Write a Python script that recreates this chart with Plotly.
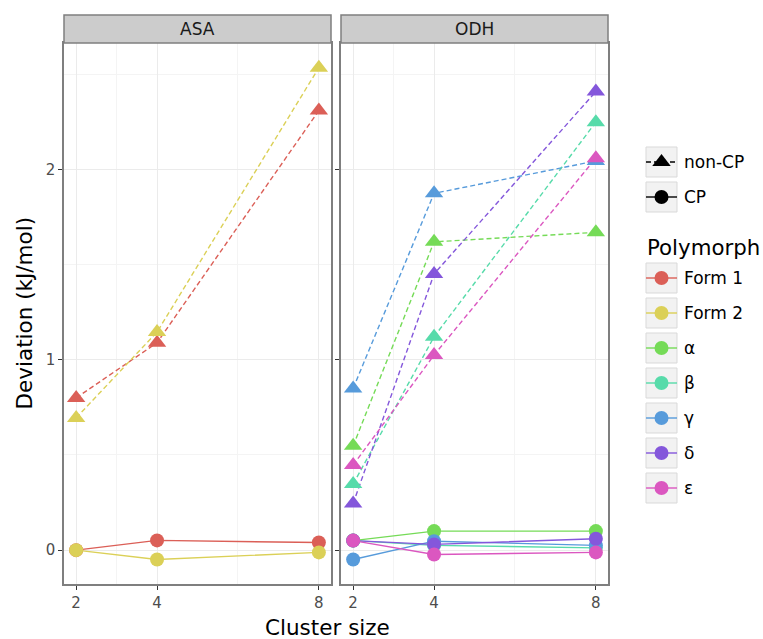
import plotly.graph_objects as go

# ---------------- data ----------------
cluster_sizes = [2, 4, 8]
polymorphs = ["Form 1", "Form 2", "α", "β", "γ", "δ", "ε"]
poly_colors = ["#DB5F57", "#DBD057", "#75DB57", "#57DBAA", "#579BDB", "#8457DB", "#DB57C0"]

asa_polymorphs = ["Form 1", "Form 2"]
asa_noncp = {"Form 1": [0.80, 1.09, 2.31], "Form 2": [0.695, 1.146, 2.535]}
asa_cp = {"Form 1": [0.0, 0.051, 0.040], "Form 2": [0.0, -0.049, -0.012]}

odh_polymorphs = ["α", "β", "γ", "δ", "ε"]
odh_noncp = {"α": [0.548, 1.62, 1.67], "β": [0.347, 1.121, 2.249],
             "γ": [0.85, 1.875, 2.045], "δ": [0.245, 1.451, 2.41],
             "ε": [0.447, 1.025, 2.06]}
odh_cp = {"α": [0.05, 0.10, 0.10], "β": [0.05, 0.025, 0.012],
          "γ": [-0.049, 0.047, 0.025], "δ": [0.05, 0.03, 0.06],
          "ε": [0.05, -0.023, -0.012]}

facets = ["ASA", "ODH"]
x_ticks = [2, 4, 8]
x_minor = [3, 6]
y_ticks = [0, 1, 2]
y_minor = [0.5, 1.5, 2.5]
cp_labels = ["non-CP", "CP"]

# ---------------- geometry ----------------
W, H = 763, 639
ML, MR, MT, MB = 64, 0, 15, 55
PW, PH = W - ML - MR, H - MT - MB


def fx(px):
    return (px - ML) / PW


def fy(py):
    return (H - MB - py) / PH


panel_px = [(64, 331), (341, 608)]
panel_top, strip_top = 43, 15

color_of = dict(zip(polymorphs, poly_colors))
FONT = "DejaVu Sans"

fig = go.Figure()

facet_data = [(asa_polymorphs, asa_noncp, asa_cp), (odh_polymorphs, odh_noncp, odh_cp)]

for i, (plist, noncp, cp) in enumerate(facet_data):
    xa = "x" if i == 0 else "x2"
    ya = "y" if i == 0 else "y2"
    # lines first
    for p in plist:
        fig.add_trace(go.Scatter(x=cluster_sizes, y=noncp[p], mode="lines", xaxis=xa, yaxis=ya,
                                 line=dict(color=color_of[p], width=1.4, dash="5px,3px"),
                                 showlegend=False, hoverinfo="skip"))
        fig.add_trace(go.Scatter(x=cluster_sizes, y=cp[p], mode="lines", xaxis=xa, yaxis=ya,
                                 line=dict(color=color_of[p], width=1.4),
                                 showlegend=False, hoverinfo="skip"))
    # then points
    for p in plist:
        fig.add_trace(go.Scatter(x=cluster_sizes, y=noncp[p], mode="markers", xaxis=xa, yaxis=ya,
                                 marker=dict(color=color_of[p], size=16, symbol="triangle-up",
                                             line=dict(width=0)),
                                 showlegend=False, name=p + " non-CP"))
        fig.add_trace(go.Scatter(x=cluster_sizes, y=cp[p], mode="markers", xaxis=xa, yaxis=ya,
                                 marker=dict(color=color_of[p], size=14, symbol="circle",
                                             line=dict(width=0)),
                                 showlegend=False, name=p + " CP"))

shapes = []
annotations = []

# strips
for i, (l, r) in enumerate(panel_px):
    shapes.append(dict(type="rect", xref="paper", yref="paper", x0=fx(l), x1=fx(r),
                       y0=fy(panel_top), y1=fy(strip_top), fillcolor="#CCCCCC",
                       line=dict(color="#7F7F7F", width=1.5), layer="above"))
    annotations.append(dict(xref="paper", yref="paper", x=(fx(l) + fx(r)) / 2,
                            y=(fy(panel_top) + fy(strip_top)) / 2, text=facets[i],
                            showarrow=False, font=dict(family=FONT, size=17, color="#1A1A1A"),
                            xanchor="center", yanchor="middle"))

# axis titles
annotations.append(dict(xref="paper", yref="paper", x=fx(327), y=fy(627), text="Cluster size",
                        showarrow=False, font=dict(family=FONT, size=21.5, color="black"),
                        xanchor="center", yanchor="middle"))
annotations.append(dict(xref="paper", yref="paper", x=fx(24), y=fy(313.5), text="Deviation (kJ/mol)",
                        showarrow=False, textangle=-90, font=dict(family=FONT, size=21.5, color="black"),
                        xanchor="center", yanchor="middle"))

# ---------------- legend (drawn on a helper axis in pixel units) ----------------
key_l, key_r, key_h = 646, 677, 30
shape_keys_top = [147, 182]
poly_keys_top = [263 + 35 * k for k in range(len(polymorphs))]
key_cx = (key_l + key_r) / 2

legend_items = []
for lab, top, sym, dash, msize in zip(cp_labels, shape_keys_top, ["triangle-up", "circle"],
                                      ["5px,3px", "solid"], [16, 14]):
    legend_items.append((lab, top, "black", sym, dash, msize))
for p, top in zip(polymorphs, poly_keys_top):
    legend_items.append((p, top, color_of[p], "circle", "solid", 14))

for lab, top, col, sym, dash, msize in legend_items:
    cy = top + key_h / 2
    shapes.append(dict(type="rect", xref="x3", yref="y3", x0=key_l, x1=key_r, y0=top, y1=top + key_h,
                       fillcolor="#F2F2F2", line=dict(color="#D9D9D9", width=1), layer="below"))
    fig.add_trace(go.Scatter(x=[key_l, key_r], y=[cy, cy], mode="lines", xaxis="x3", yaxis="y3",
                             line=dict(color=col, width=1.4, dash=dash), showlegend=False,
                             hoverinfo="skip"))
    fig.add_trace(go.Scatter(x=[key_cx], y=[cy], mode="markers", xaxis="x3", yaxis="y3",
                             marker=dict(color=col, size=msize, symbol=sym, line=dict(width=0)),
                             showlegend=False, hoverinfo="skip"))
    annotations.append(dict(xref="x3", yref="y3", x=key_r + 5, y=cy, text=lab, showarrow=False,
                            font=dict(family=FONT, size=17, color="black"),
                            xanchor="left", yanchor="middle"))

annotations.append(dict(xref="x3", yref="y3", x=key_l - 1, y=247, text="Polymorph", showarrow=False,
                        font=dict(family=FONT, size=21.3, color="black"),
                        xanchor="left", yanchor="middle"))

x_range = [1.7, 8.3]
y_range = [-0.178, 2.665]

xcommon = dict(range=x_range, tickvals=x_ticks, ticktext=[str(t) for t in x_ticks],
               showgrid=True, gridcolor="#EBEBEB", gridwidth=1.3, zeroline=False,
               showline=True, mirror=True, linecolor="#7F7F7F", linewidth=1.5,
               ticks="outside", ticklen=4, tickwidth=1.2, tickcolor="#333333",
               tickfont=dict(family=FONT, size=15, color="#4D4D4D"),
               minor=dict(tickvals=x_minor, showgrid=True, gridcolor="#F4F4F4", gridwidth=1,
                          ticks=""),
               fixedrange=True)
ycommon = dict(range=y_range, tickvals=y_ticks, showgrid=True, gridcolor="#EBEBEB", gridwidth=1.3,
               zeroline=False, showline=True, mirror=True, linecolor="#7F7F7F", linewidth=1.5,
               ticks="outside", ticklen=4, tickwidth=1.2, tickcolor="#333333",
               tickfont=dict(family=FONT, size=15, color="#4D4D4D"),
               minor=dict(tickvals=y_minor, showgrid=True, gridcolor="#F4F4F4", gridwidth=1,
                          ticks=""),
               domain=[0, fy(panel_top)], fixedrange=True)

fig.update_layout(
    width=W, height=H,
    margin=dict(l=ML, r=MR, t=MT, b=MB, pad=0),
    paper_bgcolor="white", plot_bgcolor="white",
    showlegend=False,
    xaxis=dict(domain=[fx(panel_px[0][0]), fx(panel_px[0][1])], anchor="y", **xcommon),
    xaxis2=dict(domain=[fx(panel_px[1][0]), fx(panel_px[1][1])], anchor="y2", **xcommon),
    yaxis=dict(anchor="x", **ycommon),
    yaxis2=dict(anchor="x2", matches="y", showticklabels=False, **ycommon),
    xaxis3=dict(domain=[fx(620), 1], range=[620, W], visible=False, fixedrange=True, anchor="y3"),
    yaxis3=dict(domain=[0, 1], range=[H - MB, MT], visible=False, fixedrange=True, anchor="x3"),
    shapes=shapes,
    annotations=annotations,
)

fig.write_html("out.html")
